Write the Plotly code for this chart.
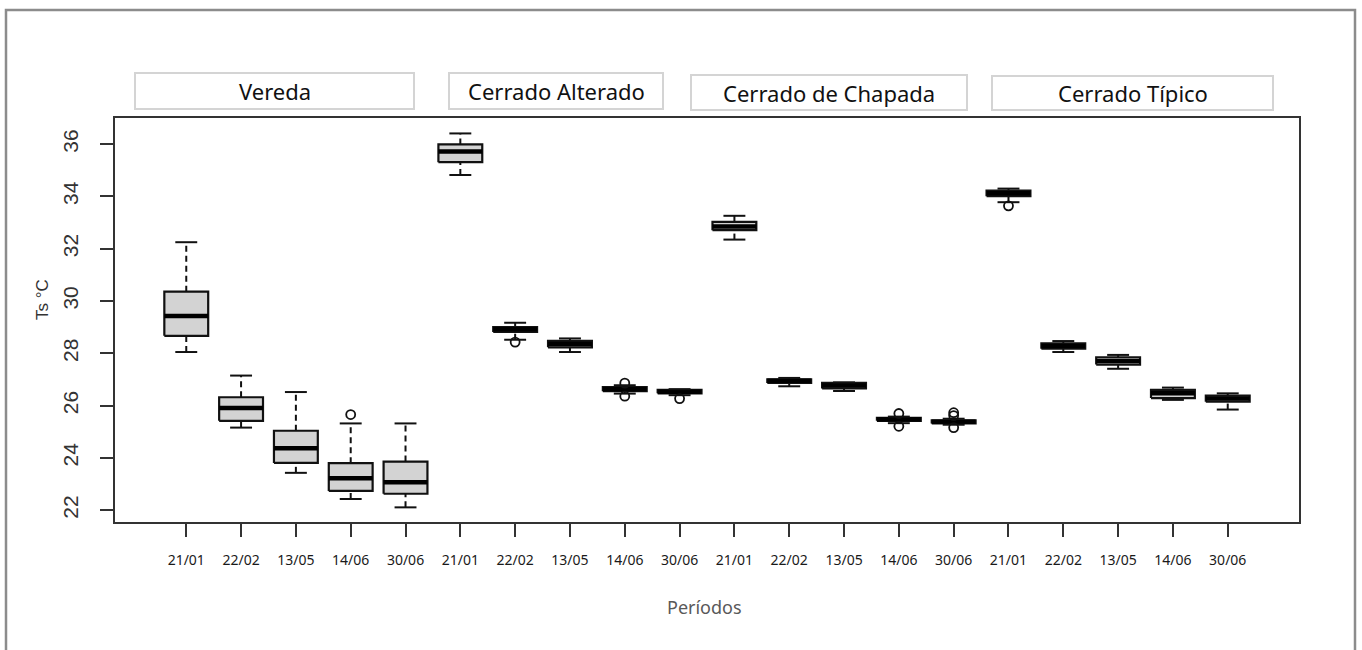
import plotly.graph_objects as go

# Sites and sampling dates
groups = ["Vereda", "Cerrado Alterado", "Cerrado de Chapada", "Cerrado Típico"]
periods = ["21/01", "22/02", "13/05", "14/06", "30/06"]

# Five-number summaries of surface temperature (°C), one entry per site/date
whisk_low = [28.05, 25.16, 23.43, 22.43, 22.11,
             34.82, 28.52, 28.05, 26.46, 26.40,
             32.35, 26.74, 26.56, 25.33, 25.27,
             33.78, 28.05, 27.41, 26.22, 25.85]
q1 = [28.67, 25.42, 23.81, 22.74, 22.63,
      35.31, 28.82, 28.23, 26.55, 26.47,
      32.71, 26.87, 26.66, 25.42, 25.32,
      34.01, 28.18, 27.57, 26.29, 26.15]
median = [29.43, 25.91, 24.37, 23.22, 23.07,
          35.72, 28.92, 28.36, 26.63, 26.53,
          32.85, 26.95, 26.77, 25.48, 25.38,
          34.12, 28.28, 27.71, 26.47, 26.27]
q3 = [30.36, 26.32, 25.04, 23.80, 23.86,
      35.99, 29.00, 28.48, 26.71, 26.60,
      33.03, 27.01, 26.87, 25.53, 25.44,
      34.22, 28.38, 27.85, 26.60, 26.38]
whisk_high = [32.25, 27.15, 26.52, 25.32, 25.32,
              36.41, 29.17, 28.57, 26.78, 26.63,
              33.26, 27.06, 26.89, 25.58, 25.50,
              34.30, 28.47, 27.94, 26.69, 26.47]
# Outlying observations: (box index, value)
outlier_box = [3, 6, 8, 8, 9, 13, 13, 14, 14, 14, 15]
outlier_val = [25.66, 28.43, 26.86, 26.36, 26.27, 25.70, 25.21, 25.73, 25.62, 25.16, 33.64]

y_ticks = [22, 24, 26, 28, 30, 32, 34, 36]

# Canvas geometry (pixels)
W, H = 1362, 650
ML, MR, MT, MB = 115, 63, 118, 128
PW, PH = W - ML - MR, H - MT - MB


def px(x):
    return (x - ML) / PW


def py(y):
    return (H - MB - y) / PH


n = len(median)
pos = list(range(1, n + 1))
half_box = 0.4
half_cap = 0.2
ink = "#111111"

fig = go.Figure()

# dashed whiskers
wx, wy = [], []
for i in range(n):
    p = pos[i]
    wx += [p, p, None, p, p, None]
    wy += [q3[i], whisk_high[i], None, whisk_low[i], q1[i], None]
fig.add_trace(go.Scatter(x=wx, y=wy, mode="lines",
                         line=dict(color=ink, width=2, dash="6px,4px"),
                         hoverinfo="skip", showlegend=False))

# boxes
for i in range(n):
    p = pos[i]
    fig.add_trace(go.Scatter(
        x=[p - half_box, p + half_box, p + half_box, p - half_box, p - half_box],
        y=[q1[i], q1[i], q3[i], q3[i], q1[i]],
        mode="lines", fill="toself", fillcolor="#d3d3d3",
        line=dict(color=ink, width=2.2), hoverinfo="skip", showlegend=False))

# medians
mx, my = [], []
for i in range(n):
    p = pos[i]
    mx += [p - half_box, p + half_box, None]
    my += [median[i], median[i], None]
fig.add_trace(go.Scatter(x=mx, y=my, mode="lines",
                         line=dict(color="#000000", width=4.5),
                         hoverinfo="skip", showlegend=False))

# whisker caps
cx, cy = [], []
for i in range(n):
    p = pos[i]
    cx += [p - half_cap, p + half_cap, None, p - half_cap, p + half_cap, None]
    cy += [whisk_high[i], whisk_high[i], None, whisk_low[i], whisk_low[i], None]
fig.add_trace(go.Scatter(x=cx, y=cy, mode="lines",
                         line=dict(color=ink, width=2),
                         hoverinfo="skip", showlegend=False))

# outliers
fig.add_trace(go.Scatter(x=[pos[b] for b in outlier_box], y=outlier_val,
                         mode="markers",
                         marker=dict(symbol="circle-open", size=9, color=ink,
                                     line=dict(width=1.8, color=ink)),
                         hoverinfo="skip", showlegend=False))

tick_text = periods * len(groups)

fig.update_xaxes(range=[-0.3, n + 1.3], tickmode="array", tickvals=pos, ticktext=tick_text,
                 ticks="outside", ticklen=13, tickwidth=2, tickcolor="#333333",
                 ticklabelstandoff=11,
                 tickfont=dict(family="Noto Sans", size=14, color="#1a1a1a"),
                 showline=True, mirror=True, linecolor="#333333", linewidth=2,
                 showgrid=False, zeroline=False)
fig.update_yaxes(range=[21.55, 37.0], tickmode="array", tickvals=y_ticks,
                 tickangle=-90, ticks="outside", ticklen=13, tickwidth=2,
                 tickcolor="#333333", ticklabelstandoff=14,
                 tickfont=dict(family="Liberation Sans", size=21, color="#333333"),
                 showline=True, mirror=True, linecolor="#333333", linewidth=2,
                 showgrid=False, zeroline=False)

shapes = []
annotations = []

# outer frame
shapes.append(dict(type="rect", xref="paper", yref="paper",
                   x0=px(6), x1=px(1355), y0=py(665), y1=py(10),
                   line=dict(color="#8c8c8c", width=2.5), fillcolor="rgba(0,0,0,0)", layer="below"))

# site header boxes
header_x0 = [135, 449, 691, 992]
header_x1 = [414, 663, 967, 1273]
header_y0 = [73, 73, 75, 76]
header_y1 = [109, 109, 110, 110]
for g, x0, x1, y0, y1 in zip(groups, header_x0, header_x1, header_y0, header_y1):
    shapes.append(dict(type="rect", xref="paper", yref="paper",
                       x0=px(x0), x1=px(x1), y0=py(y1), y1=py(y0),
                       line=dict(color="#d4d4d4", width=2), fillcolor="white"))
    annotations.append(dict(text=g, xref="paper", yref="paper",
                            x=px((x0 + x1) / 2), y=py((y0 + y1) / 2),
                            xanchor="center", yanchor="middle", showarrow=False,
                            font=dict(family="Noto Sans", size=22, color="#111111")))

# axis titles
annotations.append(dict(text="Ts °C", xref="paper", yref="paper", x=px(42), y=py(300),
                        textangle=-90, xanchor="center", yanchor="middle", showarrow=False,
                        font=dict(family="Liberation Sans", size=17, color="#333333")))
annotations.append(dict(text="Períodos", xref="paper", yref="paper", x=px(704), y=py(607),
                        xanchor="center", yanchor="middle", showarrow=False,
                        font=dict(family="Noto Sans", size=18, color="#595959")))

fig.update_layout(width=W, height=H, margin=dict(l=ML, r=MR, t=MT, b=MB),
                  paper_bgcolor="white", plot_bgcolor="white",
                  shapes=shapes, annotations=annotations, showlegend=False)

fig.write_html("out.html")
